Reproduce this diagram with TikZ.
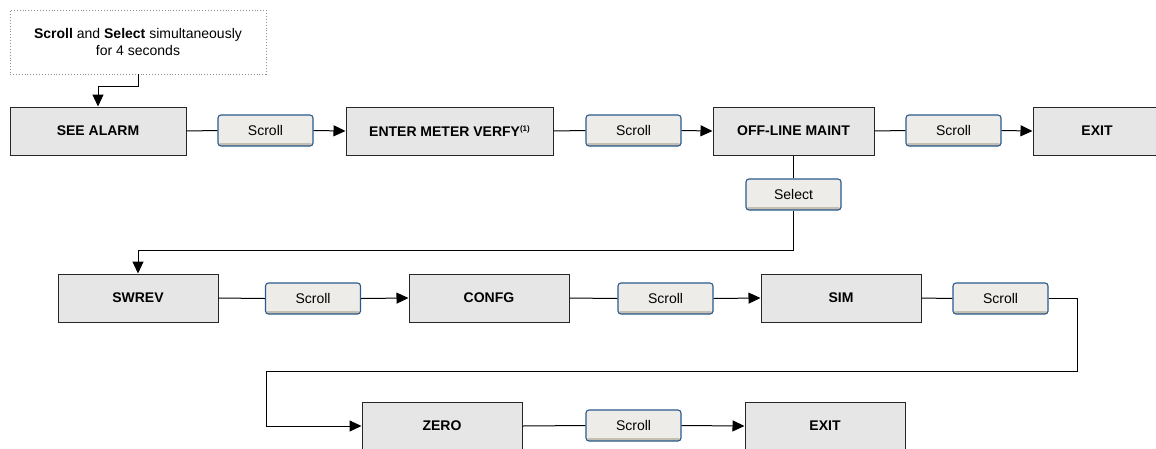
\documentclass[tikz,border=0pt]{standalone}
\usepackage{fontspec}
\setmainfont{Liberation Sans}
\usetikzlibrary{arrows.meta}
\definecolor{boxfill}{HTML}{E6E6E6}
\definecolor{btnfill}{HTML}{EDECE8}
\definecolor{btnedge}{HTML}{2A5A8C}
\definecolor{btnshade}{HTML}{C4BFB0}
\definecolor{noteedge}{HTML}{909090}
\begin{document}
\begin{tikzpicture}[x=1pt,y=-1pt,
 every node/.style={font=\fontsize{14}{17}\selectfont, inner sep=0pt},
 stepbox/.style={draw=black!85, fill=boxfill, line width=1pt, minimum height=48pt, font=\fontsize{14}{17}\selectfont\bfseries},
 btn/.style={draw=btnedge, fill=btnfill, line width=1.1pt, rounded corners=3pt, minimum width=95pt, minimum height=31pt,
   path picture={\fill[btnshade] ([yshift=3pt]path picture bounding box.south west) rectangle (path picture bounding box.south east);}},
 notebox/.style={draw=noteedge, dotted, line width=0.9pt, minimum width=256pt, minimum height=64pt, align=center},
 conn/.style={line width=1pt, draw=black},
 arr/.style={conn, -{Triangle[length=12pt,width=11pt]}},
]
\useasboundingbox (0,0) rectangle (1156,448);
\node[notebox] (note) at (138,42) {{\bfseries Scroll} and {\bfseries Select} simultaneously\\for 4 seconds};

\node[stepbox, minimum width=176pt] (seealarm) at (98,131) {SEE ALARM};
\node[btn] (b1) at (265.5,130.5) {Scroll};
\node[stepbox, minimum width=207pt] (enter) at (449.5,131) {ENTER METER VERFY\raisebox{5pt}{\fontsize{8}{8}\selectfont (1)}};
\node[btn] (b2) at (633.5,130.5) {Scroll};
\node[stepbox, minimum width=161pt] (offline) at (793.5,131) {OFF-LINE MAINT};
\node[btn] (b3) at (953.5,130.5) {Scroll};
\node[stepbox, minimum width=128pt] (exitA) at (1097,131) {EXIT};
\node[btn] (sel) at (793.5,194.5) {Select};

\node[stepbox, minimum width=160pt] (swrev) at (138,298) {SWREV};
\node[btn] (b4) at (313,298.5) {Scroll};
\node[stepbox, minimum width=160pt] (confg) at (489,298) {CONFG};
\node[btn] (b5) at (665.5,298.5) {Scroll};
\node[stepbox, minimum width=160pt] (sim) at (841,298) {SIM};
\node[btn] (b6) at (1000.5,298.5) {Scroll};

\node[stepbox, minimum width=160pt] (zero) at (442,426) {ZERO};
\node[btn] (b7) at (633.5,425.5) {Scroll};
\node[stepbox, minimum width=160pt] (exitB) at (825,426) {EXIT};

\coordinate (c1) at (1077,371);
\coordinate (c2) at (266,371);

\draw[arr] (note.south) -- ++(0,12) -| (seealarm.north);
\draw[conn] (seealarm.east) -- (b1.west);
\draw[arr] (b1.east) -- (enter.west);
\draw[conn] (enter.east) -- (b2.west);
\draw[arr] (b2.east) -- (offline.west);
\draw[conn] (offline.east) -- (b3.west);
\draw[arr] (b3.east) -- (exitA.west);
\draw[conn] (offline.south) -- (sel.north);
\draw[arr] (sel.south) -- ++(0,40) -| (swrev.north);
\draw[conn] (swrev.east) -- (b4.west);
\draw[arr] (b4.east) -- (confg.west);
\draw[conn] (confg.east) -- (b5.west);
\draw[arr] (b5.east) -- (sim.west);
\draw[conn] (sim.east) -- (b6.west);
\draw[arr] (b6.east) -| (c1) -- (c2) |- (zero.west);
\draw[conn] (zero.east) -- (b7.west);
\draw[arr] (b7.east) -- (exitB.west);
\end{tikzpicture}
\end{document}
